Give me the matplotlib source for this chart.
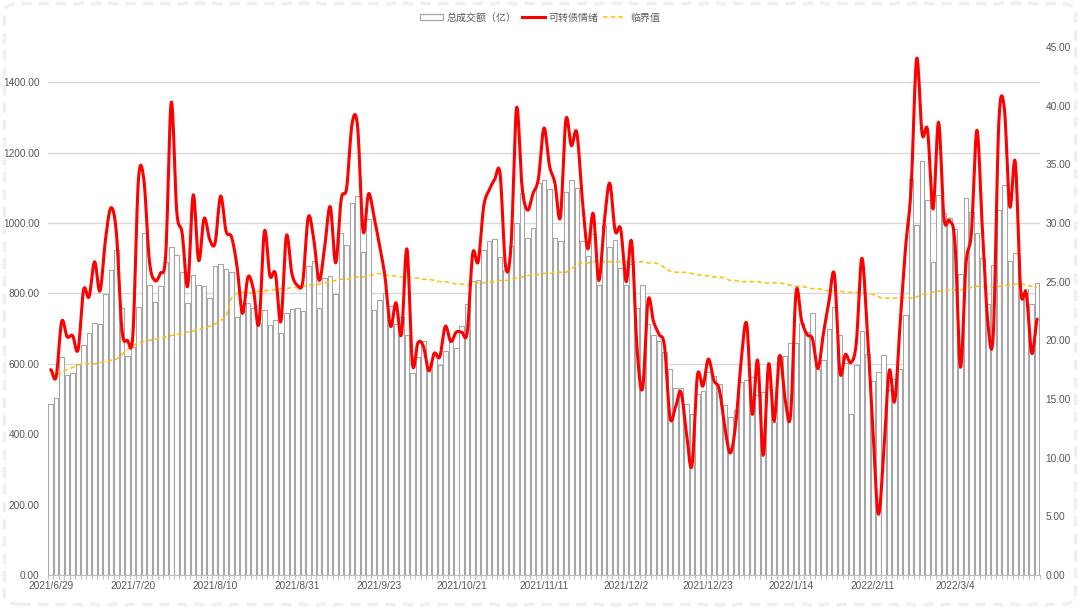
import numpy as np
import matplotlib
matplotlib.use('Agg')
import matplotlib.pyplot as plt
from matplotlib.patches import Patch, FancyBboxPatch
from matplotlib.lines import Line2D

plt.rcParams['font.family'] = ['Liberation Sans', 'Noto Sans CJK SC', 'DejaVu Sans']

# x tick labels, one every 15 trading days
tick_labels = ['2021/6/29', '2021/7/20', '2021/8/10', '2021/8/31', '2021/9/23',
               '2021/10/21', '2021/11/11', '2021/12/2', '2021/12/23', '2022/1/14',
               '2022/2/11', '2022/3/4']

# 总成交额（亿）
turnover = [486, 502, 618, 569, 573, 600, 652, 687, 716, 714,
            798, 866, 924, 758, 623, 649, 761, 972, 825, 775,
            820, 889, 932, 910, 860, 773, 853, 825, 822, 787,
            877, 884, 870, 860, 733, 752, 773, 758, 716, 754,
            710, 725, 687, 744, 755, 758, 749, 877, 891, 758,
            844, 850, 798, 972, 938, 1057, 1078, 917, 1010, 752,
            780, 801, 765, 714, 733, 683, 574, 618, 664, 581,
            632, 597, 637, 670, 645, 706, 771, 836, 837, 922,
            948, 955, 903, 867, 934, 1000, 1085, 957, 986, 1114,
            1121, 1097, 957, 948, 1087, 1121, 1099, 948, 905, 970,
            825, 993, 932, 953, 872, 825, 884, 758, 825, 713,
            683, 664, 633, 585, 531, 531, 486, 458, 515, 523,
            576, 564, 543, 483, 450, 469, 547, 553, 562, 512,
            520, 534, 436, 623, 623, 659, 659, 716, 691, 745,
            584, 612, 699, 762, 681, 601, 458, 596, 694, 628,
            550, 576, 624, 525, 558, 586, 740, 1126, 995, 1175,
            1064, 890, 1080, 1028, 1013, 983, 856, 1072, 1030, 972,
            900, 769, 880, 1037, 1109, 892, 915, 797, 812, 769,
            829]

# 可转债情绪
mood = [17.5, 16.9, 21.6, 20.3, 20.4, 19.2, 24.3, 23.7, 26.7, 24.2,
        28.6, 31.3, 29.1, 20.9, 20.0, 20.5, 33.6, 33.7, 26.8, 25.1,
        25.7, 27.4, 40.3, 31.0, 29.1, 24.6, 32.4, 26.8, 30.4, 28.6,
        28.3, 32.3, 29.3, 28.8, 26.3, 22.3, 25.4, 24.3, 21.4, 29.3,
        25.5, 25.7, 21.6, 28.9, 25.7, 24.7, 25.0, 30.5, 28.6, 25.1,
        28.0, 31.4, 26.6, 32.0, 33.0, 38.5, 38.2, 29.3, 32.5, 30.5,
        28.1, 25.4, 21.2, 23.2, 20.5, 27.8, 18.0, 19.8, 19.5, 17.4,
        18.9, 18.6, 21.2, 19.9, 20.7, 20.7, 20.7, 27.4, 26.7, 31.4,
        32.8, 33.7, 34.2, 26.3, 28.1, 39.8, 33.1, 31.1, 32.5, 33.8,
        38.1, 34.9, 33.4, 30.5, 38.8, 36.6, 37.7, 32.0, 27.8, 30.8,
        25.1, 30.0, 33.4, 29.3, 29.5, 25.0, 28.4, 19.2, 15.9, 23.4,
        21.6, 20.5, 19.5, 13.4, 14.3, 15.6, 12.1, 9.3, 17.0, 16.1,
        18.4, 16.6, 15.8, 12.6, 10.4, 12.9, 18.3, 21.4, 13.7, 18.3,
        10.2, 18.0, 13.1, 18.7, 15.0, 13.6, 24.1, 21.7, 20.5, 20.1,
        17.6, 20.6, 23.3, 25.6, 17.3, 18.8, 18.1, 19.8, 27.0, 20.8,
        12.7, 5.2, 10.4, 17.4, 14.8, 21.5, 28.0, 33.0, 44.0, 37.6,
        37.9, 31.2, 38.6, 30.4, 30.2, 28.3, 17.7, 26.5, 29.2, 37.9,
        29.5, 21.5, 20.6, 38.6, 39.8, 31.4, 35.2, 24.2, 24.0, 18.9,
        21.8]

# 临界值
threshold = [17.5, 17.1, 17.3, 17.5, 17.7, 17.9, 18.0, 18.0, 18.0, 18.1,
             18.2, 18.3, 18.4, 18.8, 19.2, 19.5, 19.8, 19.9, 20.0, 20.1,
             20.2, 20.3, 20.4, 20.5, 20.6, 20.7, 20.8, 20.9, 21.1, 21.2,
             21.4, 21.7, 22.1, 23.6, 24.0, 24.1, 24.0, 24.1, 24.2, 24.2,
             24.3, 24.3, 24.4, 24.4, 24.5, 24.5, 24.6, 24.7, 24.7, 24.8,
             24.9, 25.0, 25.1, 25.2, 25.2, 25.3, 25.4, 25.4, 25.5, 25.6,
             25.7, 25.6, 25.5, 25.5, 25.4, 25.4, 25.3, 25.3, 25.2, 25.2,
             25.1, 25.0, 25.0, 24.9, 24.8, 24.8, 24.7, 24.8, 24.9, 24.9,
             25.0, 25.0, 25.1, 25.1, 25.2, 25.3, 25.4, 25.5, 25.6, 25.6,
             25.7, 25.7, 25.8, 25.8, 25.8, 26.1, 26.4, 26.6, 26.6, 26.7,
             26.7, 26.7, 26.7, 26.7, 26.7, 26.7, 26.7, 26.7, 26.7, 26.6,
             26.6, 26.5, 26.2, 25.9, 25.8, 25.8, 25.8, 25.7, 25.6, 25.5,
             25.5, 25.4, 25.4, 25.3, 25.1, 25.1, 25.0, 25.0, 25.0, 25.0,
             24.9, 24.9, 24.9, 24.9, 24.8, 24.7, 24.6, 24.6, 24.5, 24.4,
             24.4, 24.3, 24.2, 24.2, 24.2, 24.1, 24.1, 24.1, 24.0, 24.0,
             23.9, 23.7, 23.6, 23.6, 23.6, 23.6, 23.6, 23.6, 23.7, 23.9,
             24.0, 24.1, 24.2, 24.2, 24.3, 24.3, 24.3, 24.4, 24.5, 24.6,
             24.6, 24.5, 24.5, 24.6, 24.7, 24.7, 24.8, 24.8, 24.7, 24.6,
             24.5]


def smooth(y, n=12):
    # catmull-rom curve through the points, like excel's smoothed line
    y = np.asarray(y, dtype=float)
    x = np.arange(len(y), dtype=float)
    p = np.concatenate([[y[0]], y, [y[-1]]])
    t = np.linspace(0, 1, n, endpoint=False)
    xs, ys = [], []
    for i in range(len(y) - 1):
        p0, p1, p2, p3 = p[i], p[i + 1], p[i + 2], p[i + 3]
        seg = 0.5 * ((2 * p1) + (-p0 + p2) * t
                     + (2 * p0 - 5 * p1 + 4 * p2 - p3) * t ** 2
                     + (-p0 + 3 * p1 - 3 * p2 + p3) * t ** 3)
        xs.append(x[i] + t)
        ys.append(seg)
    xs.append([x[-1]])
    ys.append([y[-1]])
    return np.concatenate(xs), np.concatenate(ys)


grey_txt = '#595959'
x = np.arange(len(turnover))

fig = plt.figure(figsize=(10.8, 6.08), dpi=100)
fig.patch.set_facecolor('white')
border = FancyBboxPatch((0.004, 0.006), 0.992, 0.988,
                        boxstyle='round,pad=0,rounding_size=0.015',
                        transform=fig.transFigure, facecolor='none',
                        edgecolor='#f0f0f0', linewidth=2.5, linestyle=(0, (3, 2)))
fig.patches.append(border)

ax = fig.add_axes([0.0444, 0.0543, 0.9185, 0.8684])
ax2 = ax.twinx()

ax.bar(x, turnover, width=0.82, color='white', edgecolor='#a6a6a6',
       linewidth=0.8, zorder=2)
ax.set_ylim(0, 1500)
ax.set_yticks(np.arange(0, 1401, 200))
ax.set_yticklabels(['%.2f' % v for v in np.arange(0, 1401, 200)])
ax.yaxis.grid(True, color='#d9d9d9', linewidth=1.0, zorder=0)
ax.set_axisbelow(True)
ax.set_xlim(-0.5, len(turnover) - 0.5)
ax.set_xticks(np.arange(0, 15 * len(tick_labels), 15))
ax.set_xticklabels(tick_labels)
ax.set_xticks(np.arange(-0.5, len(turnover), 1), minor=True)
ax.tick_params(axis='x', which='major', length=0, pad=4, labelsize=7.3,
               labelcolor=grey_txt)
ax.tick_params(axis='x', which='minor', length=3, color='#bfbfbf', width=0.8)
ax.tick_params(axis='y', length=0, labelsize=7.3, labelcolor=grey_txt, pad=6)
for s in ['top', 'left', 'right']:
    ax.spines[s].set_visible(False)
ax.spines['bottom'].set_color('#bfbfbf')

sx, sy = smooth(mood)
ax2.plot(sx, sy, color='#ff0000', linewidth=2.2, zorder=4,
         solid_capstyle='round')
tx, ty = smooth(threshold)
ax2.plot(tx, ty, color='#ffc000', linewidth=1.1, linestyle=(0, (3, 2)), zorder=3)
ax2.set_ylim(0, 45)
ax2.set_yticks(np.arange(0, 46, 5))
ax2.set_yticklabels(['%.2f' % v for v in np.arange(0, 46, 5)])
ax2.tick_params(axis='y', length=0, labelsize=7.3, labelcolor=grey_txt, pad=4)
for s in ['top', 'left', 'right', 'bottom']:
    ax2.spines[s].set_visible(False)

handles = [Patch(facecolor='white', edgecolor='#a6a6a6', linewidth=0.9),
           Line2D([], [], color='#ff0000', linewidth=2.2),
           Line2D([], [], color='#ffc000', linewidth=1.1, linestyle=(0, (3, 2)))]
labels = ['总成交额（亿）', '可转债情绪', '临界值']
leg = fig.legend(handles, labels, loc='center', bbox_to_anchor=(0.5, 0.971),
                 ncol=3, frameon=False, fontsize=7.2, handlelength=2.3,
                 handleheight=0.6, columnspacing=0.5, handletextpad=0.35)
for t in leg.get_texts():
    t.set_color(grey_txt)

fig.savefig('out.png', dpi=100, facecolor='white')
